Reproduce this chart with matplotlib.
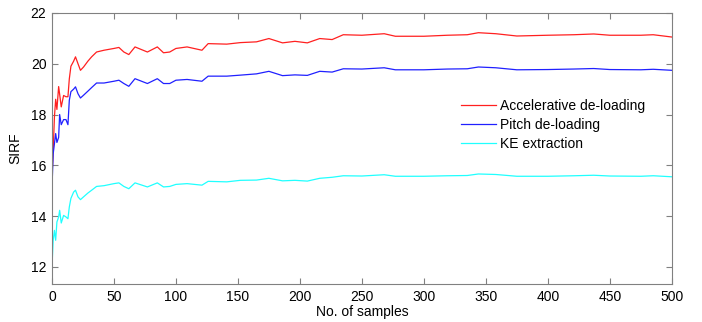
import numpy as np
import matplotlib
matplotlib.use('Agg')
import matplotlib.pyplot as plt

plt.rcParams['font.family'] = ['Liberation Sans', 'DejaVu Sans']

# sample positions
samples = [0, 1, 2, 3, 4, 5.4, 6.2, 7.5, 9.4, 11.3, 12.9, 14, 15.3, 17.5, 19, 21, 23,
           25.5, 29, 32, 36, 42, 50, 54, 58, 62, 67, 77, 85, 90, 95, 100, 109, 121,
           126, 141, 152, 165, 175, 186, 196, 206, 216, 226, 235, 250, 268, 277, 300,
           319, 335, 344, 358, 375, 400, 421, 437, 450, 475, 485, 500]

accel = [15.5, 16.6, 17.9, 18.6, 18.2, 19.1, 18.8, 18.3, 18.75, 18.7, 18.7, 19.4, 19.9,
         20.1, 20.27, 20.0, 19.74, 19.87, 20.1, 20.27, 20.46, 20.53, 20.6, 20.64, 20.46,
         20.36, 20.66, 20.46, 20.66, 20.43, 20.46, 20.6, 20.66, 20.53, 20.79, 20.77,
         20.83, 20.86, 20.99, 20.82, 20.88, 20.82, 20.99, 20.95, 21.14, 21.12, 21.18,
         21.08, 21.08, 21.12, 21.14, 21.22, 21.18, 21.09, 21.12, 21.14, 21.17, 21.12,
         21.12, 21.14, 21.05]

pitch = [15.08, 16.46, 16.85, 17.25, 16.9, 17.1, 18.0, 17.6, 17.8, 17.8, 17.6, 18.56,
         18.9, 19.0, 19.09, 18.82, 18.65, 18.76, 18.92, 19.06, 19.24, 19.24, 19.31, 19.35,
         19.22, 19.11, 19.41, 19.22, 19.41, 19.22, 19.22, 19.35, 19.38, 19.31, 19.51,
         19.51, 19.55, 19.6, 19.70, 19.53, 19.56, 19.54, 19.70, 19.67, 19.8, 19.79, 19.84,
         19.76, 19.76, 19.79, 19.8, 19.87, 19.84, 19.76, 19.77, 19.79, 19.81, 19.77,
         19.76, 19.78, 19.74]

ke = [12.0, 13.05, 13.44, 13.05, 13.77, 13.97, 14.23, 13.73, 14.03, 13.97, 13.9, 14.36,
      14.7, 14.95, 15.02, 14.76, 14.65, 14.76, 14.91, 15.02, 15.17, 15.2, 15.28, 15.31,
      15.17, 15.08, 15.31, 15.15, 15.31, 15.15, 15.17, 15.25, 15.28, 15.22, 15.37,
      15.35, 15.41, 15.42, 15.49, 15.39, 15.41, 15.38, 15.49, 15.53, 15.59, 15.58, 15.63,
      15.57, 15.57, 15.59, 15.6, 15.66, 15.64, 15.57, 15.57, 15.59, 15.61, 15.58,
      15.57, 15.59, 15.55]

labels = ['Accelerative de-loading', 'Pitch de-loading', 'KE extraction']

fig = plt.figure(figsize=(7.02, 3.22), dpi=100)
ax = fig.add_axes([0.074, 0.118, 0.883, 0.842])

ax.plot(samples, accel, color='#ff2020', lw=0.9, label=labels[0])
ax.plot(samples, pitch, color='#2020ff', lw=0.9, label=labels[1])
ax.plot(samples, ke, color='#20ffff', lw=0.9, label=labels[2])

ax.set_xlim(0, 500)
ax.set_ylim(11.33, 22)
ax.set_xticks(np.arange(0, 501, 50))
ax.set_yticks(np.arange(12, 23, 2))
ax.tick_params(direction='in', top=True, right=True, length=4, color='#808080',
               labelsize=10, pad=4)
for sp in ax.spines.values():
    sp.set_color('#808080')

ax.set_xlabel('No. of samples', fontsize=10, labelpad=1)
ax.set_ylabel('SIRF', fontsize=10, labelpad=6)

ax.legend(frameon=False, loc='center left', bbox_to_anchor=(0.64, 0.587),
          fontsize=10, handlelength=2.5, handletextpad=0.3, labelspacing=0.38)

fig.savefig('out.png', dpi=100)
